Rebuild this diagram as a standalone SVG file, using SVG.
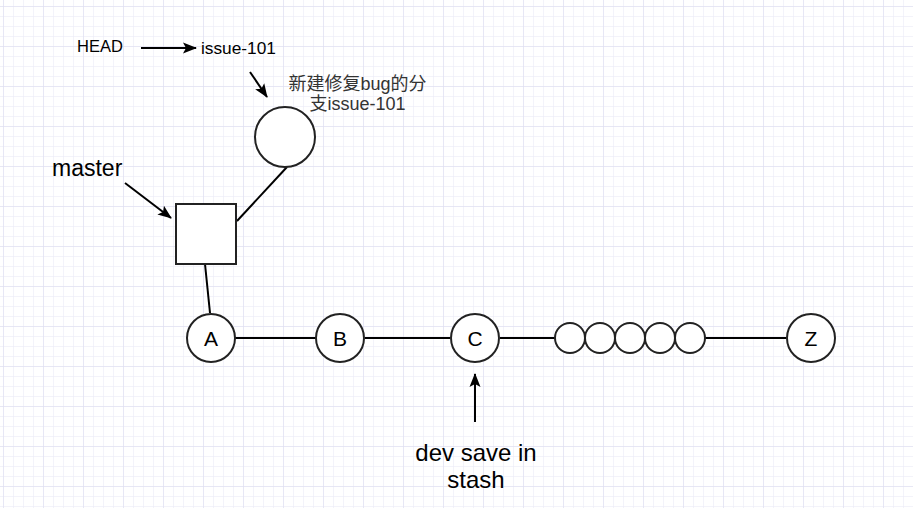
<svg xmlns="http://www.w3.org/2000/svg" width="913" height="508" viewBox="0 0 913 508">
<defs>
<pattern id="minor" x="3" y="6" width="10" height="10" patternUnits="userSpaceOnUse">
<path d="M0 0H10M0 0V10" fill="none" stroke="#e8e8f6" stroke-width="1"/>
</pattern>
<pattern id="major" x="3" y="6" width="40" height="40" patternUnits="userSpaceOnUse">
<path d="M0 0H40M0 0V40" fill="none" stroke="#dcdcf0" stroke-width="1"/>
</pattern>
<marker id="arr" markerWidth="14" markerHeight="12" refX="13" refY="6" orient="auto" markerUnits="userSpaceOnUse">
<path d="M0 0.5L14 6L0 11.5L3 6Z" fill="#000"/>
</marker>
<style>
.n{fill:#fff;stroke:#222;stroke-width:2}
.e{fill:none;stroke:#000;stroke-width:2}
.t{font-family:"Liberation Sans",Arial,sans-serif;fill:#000}
.cjk{font-family:"Liberation Sans","Noto Sans CJK SC",sans-serif;fill:#333}
</style>
</defs>
<rect width="913" height="508" fill="#fff"/>
<rect width="913" height="508" fill="url(#minor)"/>
<rect width="913" height="508" fill="url(#major)"/>
<g id="connectors">
<line class="e" x1="141" y1="48" x2="196" y2="48" marker-end="url(#arr)"/>
<line class="e" x1="250" y1="72" x2="267" y2="97" marker-end="url(#arr)"/>
<line class="e" x1="125" y1="183" x2="171" y2="218" marker-end="url(#arr)"/>
<line class="e" x1="287" y1="167" x2="237" y2="221"/>
<line class="e" x1="205" y1="264" x2="210" y2="313"/>
<line class="e" x1="235" y1="338" x2="316" y2="338"/>
<line class="e" x1="365" y1="338" x2="450" y2="338"/>
<line class="e" x1="500" y1="338" x2="555" y2="338"/>
<line class="e" x1="705" y1="338" x2="786" y2="338"/>
<line class="e" x1="475" y1="422" x2="475" y2="374" marker-end="url(#arr)"/>
</g>
<g id="head"><text class="t" x="77" y="52" font-size="16.5">HEAD</text></g>
<g id="issue-label"><text class="t" x="201" y="54" font-size="17.3">issue-101</text></g>
<g id="note"><text class="cjk" font-size="18" text-anchor="middle"><tspan x="357.5" y="90">新建修复bug的分</tspan><tspan x="357.5" y="110">支issue-101</tspan></text></g>
<g id="issue-node"><circle class="n" cx="285" cy="137" r="30"/></g>
<g id="master-label"><text class="t" x="52" y="176" font-size="23">master</text></g>
<g id="master-node"><rect class="n" x="176" y="204" width="60" height="60"/></g>
<g id="A"><circle class="n" cx="211" cy="338" r="24"/><text class="t" x="211" y="346" font-size="21" text-anchor="middle">A</text></g>
<g id="B"><circle class="n" cx="340" cy="338" r="24"/><text class="t" x="340" y="346" font-size="21" text-anchor="middle">B</text></g>
<g id="C"><circle class="n" cx="475" cy="338" r="24"/><text class="t" x="475" y="346" font-size="21" text-anchor="middle">C</text></g>
<g id="dots">
<circle class="n" cx="570" cy="338" r="15"/>
<circle class="n" cx="600" cy="338" r="15"/>
<circle class="n" cx="630" cy="338" r="15"/>
<circle class="n" cx="660" cy="338" r="15"/>
<circle class="n" cx="690" cy="338" r="15"/>
</g>
<g id="Z"><circle class="n" cx="811" cy="338" r="24"/><text class="t" x="811" y="346" font-size="21" text-anchor="middle">Z</text></g>
<g id="stash-label"><text class="t" font-size="24" text-anchor="middle"><tspan x="476" y="461">dev save in</tspan><tspan x="476" y="488">stash</tspan></text></g>
</svg>
